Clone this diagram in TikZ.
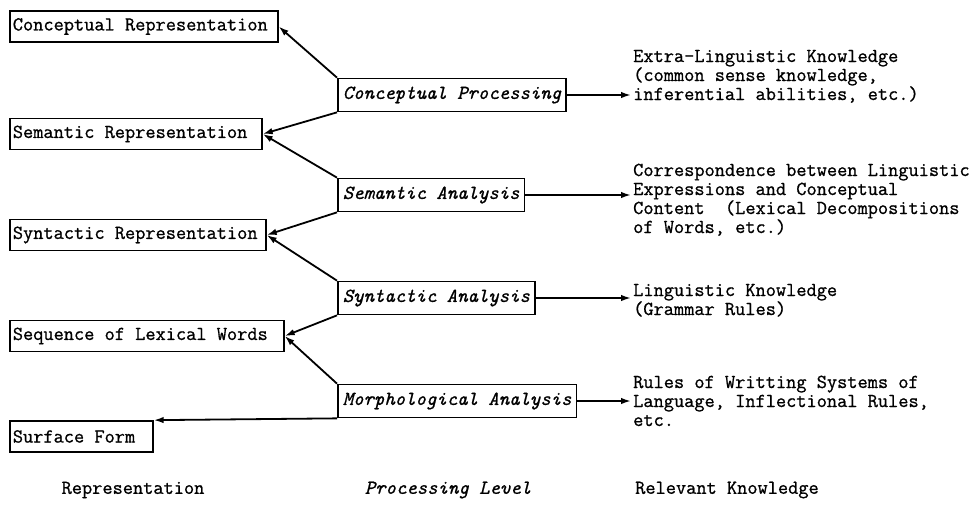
\documentclass[tikz,border=0pt]{standalone}
\usepackage{fontspec}
\setmonofont{Latin Modern Mono}[FakeBold=0.9]
\usetikzlibrary{arrows.meta}

\begin{document}
\ttfamily\fontsize{19.8pt}{19pt}\selectfont
\begin{tikzpicture}[x=1pt,y=-1pt,
  rep/.style={draw,line width=1.7pt,anchor=west,align=flush left,inner xsep=3pt,minimum height=31pt},
  proc/.style={draw,line width=1.7pt,anchor=west,inner xsep=5pt,minimum height=33pt,font=\itshape},
  know/.style={anchor=base west,align=left,inner sep=0pt},
  flow/.style={-{Latex[length=10pt,width=6.5pt]},line width=1.8pt}
]
  \useasboundingbox (0,0) rectangle (980,506);

  % representations
  \node[rep,text width=262pt] (crep) at (9,26.5) {Conceptual Representation};
  \node[rep,text width=246pt] (srep) at (9,134) {Semantic Representation};
  \node[rep,text width=250pt] (syrep) at (9,235) {Syntactic Representation};
  \node[rep,text width=268pt] (lex) at (9,336) {Sequence of Lexical Words};
  \node[rep,text width=137pt] (surf) at (9,436.5) {Surface Form};

  % processing levels
  \node[proc] (cp) at (337,95) {Conceptual Processing};
  \node[proc] (sa) at (337,195) {Semantic Analysis};
  \node[proc] (syn) at (337,298) {Syntactic Analysis};
  \node[proc] (morph) at (337,401) {Morphological Analysis};

  % knowledge (base = last line)
  \node[know] (ek) at (633,100) {Extra-Linguistic Knowledge\\(common sense knowledge,\\inferential abilities, etc.)};
  \node[know] (corr) at (633,233) {Correspondence between Linguistic\\Expressions and Conceptual\\Content\ \ (Lexical Decompositions\\of Words, etc.)};
  \node[know] (ling) at (633,315) {Linguistic Knowledge\\(Grammar Rules)};
  \node[know] (rules) at (633,426) {Rules of Writting Systems of\\Language, Inflectional Rules,\\etc.};

  % column titles
  \node (rlab) at (133,490) {Representation};
  \node[font=\itshape] (plab) at (448,490) {Processing Level};
  \node[anchor=west,inner xsep=0pt] (klab) at (635,490) {Relevant Knowledge};

  \path[flow]
    (cp.north west) edge (crep.east)
    (cp.south west) edge (srep.east)
    (sa.north west) edge (srep.east)
    (sa.south west) edge (syrep.east)
    (syn.north west) edge (syrep.east)
    (syn.south west) edge (lex.east)
    (morph.north west) edge (lex.east)
    (morph.south west) edge (surf.north east);

  \path[flow,shorten >=2pt]
    (cp.east) edge (cp.east -| ek.west)
    (sa.east) edge (sa.east -| corr.west)
    (syn.east) edge (syn.east -| ling.west)
    (morph.east) edge (morph.east -| rules.west);
\end{tikzpicture}
\end{document}
